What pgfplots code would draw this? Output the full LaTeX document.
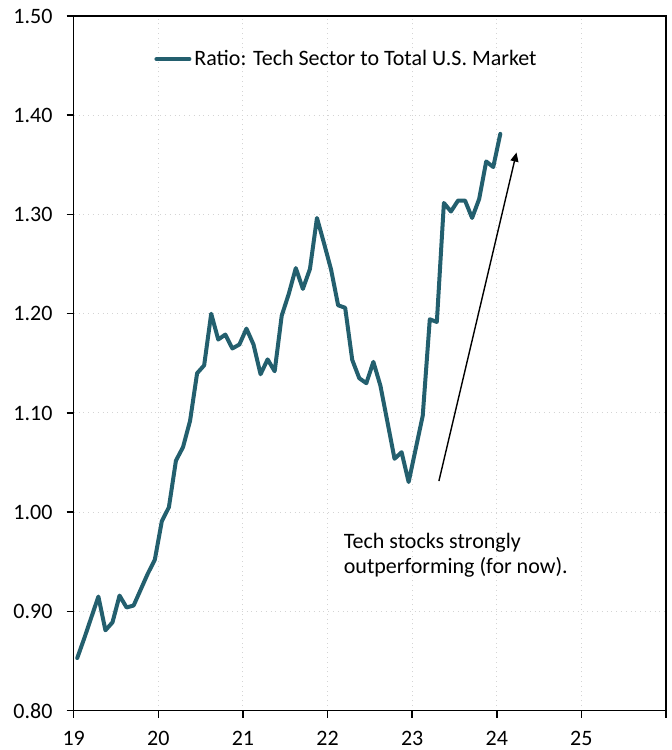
\documentclass[border=0pt]{standalone}
\usepackage{pgfplots}
\pgfplotsset{compat=1.18}
\usepackage{fontspec}
\setmainfont{Carlito}
\usetikzlibrary{arrows.meta}
\definecolor{teal1}{HTML}{235F6E}
\definecolor{gridc}{HTML}{D4D4D4}
\begin{document}
\begin{tikzpicture}[font=\fontsize{11}{13}\selectfont]
\begin{axis}[
  name=ax,
  scale only axis,
  width=296.15pt, height=347.35pt,
  xmin=19, xmax=26, ymin=0.8, ymax=1.5,
  xtick={19,20,21,22,23,24,25,26},
  xticklabels={19,20,21,22,23,24,25,{}},
  ytick={0.8,0.9,1.0,1.1,1.2,1.3,1.4,1.5},
  yticklabel style={xshift=-3.6pt, /pgf/number format/fixed, /pgf/number format/fixed zerofill, /pgf/number format/precision=2, /pgf/number format/assume math mode=true},
  xticklabel style={yshift=-3.2pt, /pgf/number format/assume math mode=true},
  tick align=outside, tick pos=left,
  major tick length=3.5pt,
  tick style={black, line width=0.75pt},
  axis line style={black, line width=0.75pt},
  grid=major,
  major grid style={gridc, dotted, line width=0.5pt},
  legend style={draw=none, fill=none, at={(0.1356,0.9380)}, anchor=west, inner sep=0pt,
    nodes={inner xsep=1.5pt, inner ysep=0pt}, font=\fontsize{11}{13}\selectfont},
  legend cell align=left,
  legend image code/.code={\draw[#1, line width=2pt] (0pt,0pt) -- (16.5pt,0pt);},
]
\addplot[teal1, line width=2pt, line join=round, line cap=round] coordinates {
(19.0417,0.853) (19.1250,0.873) (19.2083,0.894) (19.2917,0.915) (19.3750,0.881)
(19.4583,0.889) (19.5417,0.916) (19.6250,0.904) (19.7083,0.906) (19.7917,0.922)
(19.8750,0.938) (19.9583,0.952) (20.0417,0.991) (20.1250,1.005) (20.2083,1.052)
(20.2917,1.0655) (20.3750,1.092) (20.4583,1.140) (20.5417,1.148) (20.6250,1.200)
(20.7083,1.174) (20.7917,1.179) (20.8750,1.165) (20.9583,1.169) (21.0417,1.185)
(21.1250,1.169) (21.2083,1.139) (21.2917,1.154) (21.3750,1.142) (21.4583,1.198)
(21.5417,1.220) (21.6250,1.246) (21.7083,1.225) (21.7917,1.245) (21.8750,1.2965)
(21.9583,1.271) (22.0417,1.2445) (22.1250,1.2085) (22.2083,1.206) (22.2917,1.1535)
(22.3750,1.135) (22.4583,1.130) (22.5417,1.1515) (22.6250,1.1274) (22.7083,1.0907)
(22.7917,1.0538) (22.8750,1.0605) (22.9583,1.0304) (23.0417,1.0638) (23.1250,1.0973)
(23.2083,1.1944) (23.2917,1.1917) (23.3750,1.3116) (23.4583,1.303) (23.5417,1.314)
(23.6250,1.314) (23.7083,1.2965) (23.7917,1.3156) (23.8750,1.3534) (23.9583,1.3478)
(24.0417,1.3812)
};
\addlegendentry{Ratio: Tech Sector to Total U.S. Market}
\addplot[black, line width=0.7pt, -{Triangle[length=4.5pt,width=4pt]}, forget plot] coordinates {
(23.316,1.0314) (24.233,1.3624)
};
\node[anchor=base west, inner sep=0pt] at (axis cs:22.188,0.9634) {Tech stocks strongly};
\node[anchor=base west, inner sep=0pt] at (axis cs:22.188,0.9383) {outperforming (for now).};
\end{axis}
\pgfresetboundingbox
\path ([shift={(-36.85pt,-19.65pt)}]ax.south west) rectangle ([shift={(2.5pt,8pt)}]ax.north east);
\end{tikzpicture}
\end{document}
